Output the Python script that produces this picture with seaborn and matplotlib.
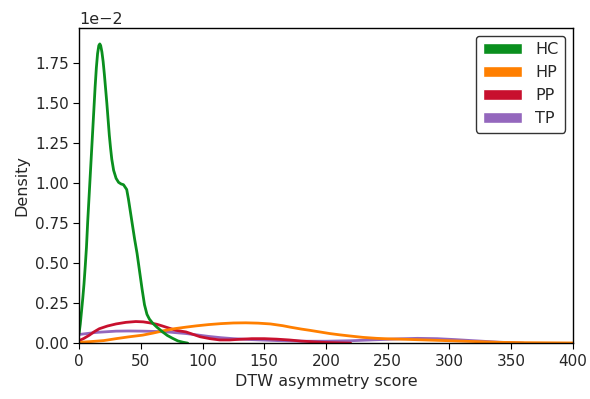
import numpy as np
import pandas as pd
import matplotlib
matplotlib.use("Agg")
import matplotlib.pyplot as plt
import seaborn as sns
from matplotlib.patches import Patch

# Density curves (density values)
hc_x = [0, 1, 2, 3, 4, 5, 6, 7, 8, 9, 10, 11, 12, 13, 14, 15, 16, 16.8, 17.5, 18.5, 19.5, 20.5, 21.5, 22.5,
        23.5, 24.5, 25.5, 26.5, 28, 30, 32, 34, 36, 38.6, 40, 42, 45, 47, 49, 51, 53, 55, 57, 59.6, 63, 67.7,
        71.5, 75.8, 80, 84, 88]
hc_y = [0.0006, 0.0012, 0.0020, 0.0028, 0.0037, 0.0048, 0.0060, 0.0076, 0.0090, 0.0104, 0.0118, 0.0132, 0.0146,
        0.0160, 0.0172, 0.0181, 0.0186, 0.0187, 0.0186, 0.0182, 0.0176, 0.0168, 0.0159, 0.0150, 0.0140, 0.0130,
        0.0122, 0.0115, 0.0108, 0.0103, 0.01005, 0.00995, 0.0099, 0.0096, 0.0090, 0.0080, 0.0065, 0.0056,
        0.0045, 0.0034, 0.0024, 0.0018, 0.0015, 0.00125, 0.0010, 0.0007, 0.00048, 0.0003, 0.00014, 0.00006, 0.0]

hp_x = [0, 10, 20, 30, 40, 51.5, 60, 68, 77, 86.6, 95, 105, 115, 125, 135, 145, 155, 165, 171, 180, 187, 195,
        203, 211, 219, 230, 241, 250, 260, 280, 300, 320, 341, 360, 380, 400]
hp_y = [0.00005, 0.0001, 0.00016, 0.00028, 0.00039, 0.0005, 0.00063, 0.00077, 0.0009, 0.001, 0.00108, 0.00116,
        0.00122, 0.00126, 0.00127, 0.00125, 0.0012, 0.00109, 0.001, 0.00088, 0.0008, 0.0007, 0.0006, 0.00052,
        0.00045, 0.00036, 0.0003, 0.00027, 0.00025, 0.0002, 0.00015, 0.0001, 0.00005, 0.00003, 0.00002, 0.00001]

pp_x = [0, 4, 8.4, 12, 16.4, 23, 30, 38, 46, 52, 57, 63, 68, 78.5, 86.6, 98, 106, 114, 122, 130, 140, 150, 160,
        170, 180, 190, 200, 220]
pp_y = [0.00015, 0.0003, 0.0005, 0.0007, 0.0009, 0.00107, 0.0012, 0.0013, 0.00135, 0.00133, 0.00127, 0.00118,
        0.00106, 0.0008, 0.0007, 0.0004, 0.00028, 0.0002, 0.0002, 0.00024, 0.00028, 0.00028, 0.00025, 0.0002,
        0.00013, 0.00008, 0.00004, 0.0]

tp_x = [0, 13.8, 30, 40, 51.5, 62, 73, 86.6, 95, 105, 115, 125, 140, 160, 180, 200, 220, 240, 260, 274, 290,
        305, 320, 340, 360]
tp_y = [0.00054, 0.00067, 0.00075, 0.00076, 0.00075, 0.00073, 0.00069, 0.0006, 0.00052, 0.00042, 0.00034,
        0.00028, 0.00022, 0.00016, 0.00012, 0.00012, 0.00015, 0.00021, 0.00027, 0.0003, 0.00028, 0.00022,
        0.00015, 0.00006, 0.0]

groups = ["HC", "HP", "PP", "TP"]
colors = {"HC": "#0a8f1e", "HP": "#ff7f00", "PP": "#c8102e", "TP": "#9467bd"}

frames = []
for g, xs, ys in [("TP", tp_x, tp_y), ("PP", pp_x, pp_y), ("HP", hp_x, hp_y), ("HC", hc_x, hc_y)]:
    frames.append(pd.DataFrame({"score": xs, "density": ys, "group": g}))
df = pd.concat(frames, ignore_index=True)

sns.set_style("ticks")
plt.rcParams["font.family"] = ["DejaVu Sans"]
plt.rcParams["lines.solid_joinstyle"] = "round"
fig, ax = plt.subplots(figsize=(5.9, 3.99), dpi=100)
fig.subplots_adjust(left=0.134, right=0.971, top=0.93, bottom=0.14)

sns.lineplot(data=df, x="score", y="density", hue="group",
             hue_order=["TP", "PP", "HP", "HC"], palette=colors,
             linewidth=2, ax=ax, legend=False, sort=True, estimator=None)

ax.set_xlim(0, 400)
ax.set_ylim(0, 0.0197)
ax.set_xlabel("DTW asymmetry score", fontsize=11.5)
ax.set_ylabel("Density", fontsize=11.5)
ax.ticklabel_format(axis="y", style="sci", scilimits=(-2, -2))
ax.yaxis.get_offset_text().set_fontsize(11.5)
ax.tick_params(labelsize=11, color="black", length=4)
for s in ax.spines.values():
    s.set_color("black")
    s.set_linewidth(1.0)

handles = [Patch(facecolor=colors[g], label=g) for g in groups]
leg = ax.legend(handles=handles, loc="upper right", fontsize=11.5, frameon=True,
                edgecolor="black", fancybox=True, handlelength=2.5)
leg.get_frame().set_linewidth(1.0)

fig.savefig("out.png", dpi=100)
